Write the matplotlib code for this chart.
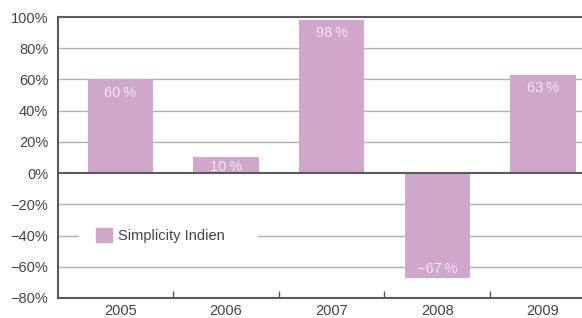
import matplotlib
matplotlib.use("Agg")
import matplotlib.pyplot as plt
from matplotlib.patches import Patch, Rectangle
import numpy as np

plt.rcParams['font.family'] = ['Liberation Sans', 'DejaVu Sans']

# data
years = ['2005', '2006', '2007', '2008', '2009']
values = [60, 10, 98, -67, 63]
yticks = [-80, -60, -40, -20, 0, 20, 40, 60, 80, 100]

BAR = '#cea7cb'
DARK = '#5a5a5a'
GRID = '#b0b0b0'
FS = 10.5

fig = plt.figure(figsize=(5.82, 3.18), dpi=100)
ax = fig.add_axes([0.0997, 0.063, 0.9003, 0.8835])

x = np.arange(len(years))
ax.bar(x, values, width=0.62, color=BAR, zorder=2)

for xi, v in zip(x, values):
    if v >= 0:
        # small bars get their label a bit higher so it stays inside
        off = -9.5 if v > 20 else -6.5
        ax.annotate(f'{v}\u2009%', (xi, v), xytext=(0, off), textcoords='offset points',
                    ha='center', va='center', color='#f3e8f2', fontsize=FS, zorder=3)
    else:
        ax.annotate(f'\u2212{-v}\u2009%', (xi, v), xytext=(0, 6), textcoords='offset points',
                    ha='center', va='center', color='#f3e8f2', fontsize=FS, zorder=3)

ax.set_ylim(-80, 100)
ax.set_xlim(-0.59, 4.37)
ax.set_yticks(yticks)
ax.set_yticklabels([f'{t}%'.replace('-', '\u2212') for t in yticks])
ax.set_xticks(x)
ax.set_xticklabels(years)
ax.set_xticks(x[:-1] + 0.5, minor=True)

ax.tick_params(axis='y', length=0, pad=7, labelsize=FS, labelcolor='#444444')
ax.tick_params(axis='x', which='major', length=0, pad=4, labelsize=FS, labelcolor='#444444')
ax.tick_params(axis='x', which='minor', direction='in', length=5, width=1, color=DARK)

for t in yticks:
    if t in (0, -80, 100):
        continue
    ax.axhline(t, color=GRID, lw=1, zorder=1)
ax.axhline(0, color=DARK, lw=1.5, zorder=3)

for s in ['left', 'bottom', 'top']:
    ax.spines[s].set_color(DARK)
    ax.spines[s].set_linewidth(1.5)
ax.spines['right'].set_visible(False)

# white box behind the legend, breaking the -40% grid line
ax.add_patch(Rectangle((-0.39, -46), 1.69, 12, facecolor='white', edgecolor='none', zorder=1.5))
leg = ax.legend(handles=[Patch(color=BAR, label='Simplicity Indien')],
                loc='center left', bbox_to_anchor=(0.073, 0.222), frameon=False,
                fontsize=FS, handlelength=1.05, handleheight=1.05, handletextpad=0.45,
                borderpad=0, borderaxespad=0)
for txt in leg.get_texts():
    txt.set_color('#444444')
leg.set_zorder(4)

fig.savefig('out.png', dpi=100)
